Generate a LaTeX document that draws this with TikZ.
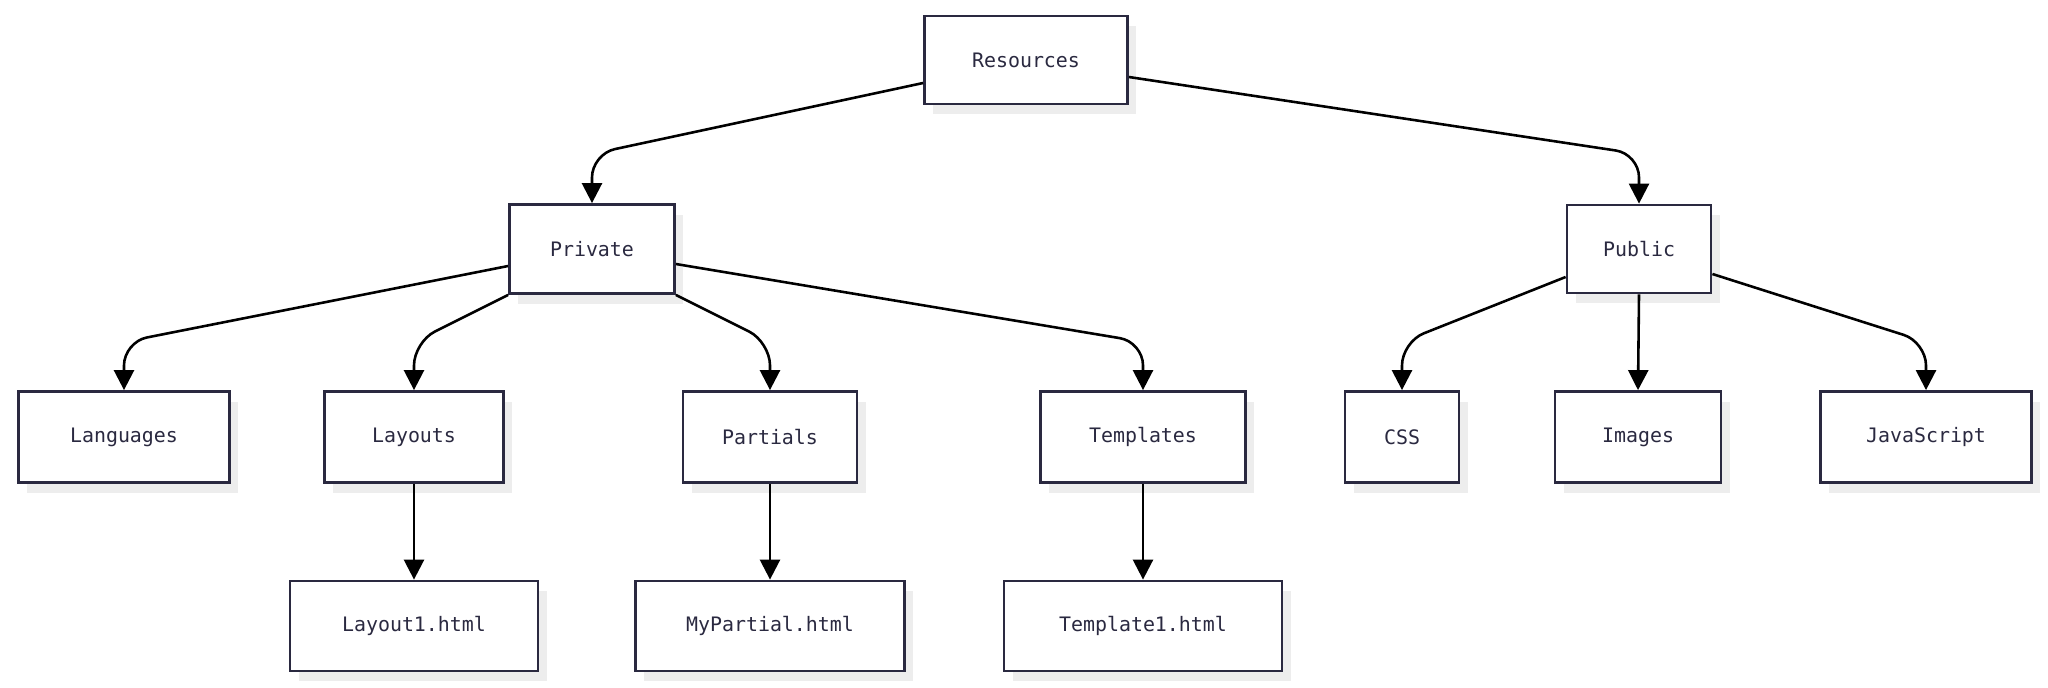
\documentclass[tikz,border=0pt]{standalone}
\usepackage{fontspec}
\setmonofont{DejaVu Sans Mono}
\usetikzlibrary{arrows.meta,calc}
\definecolor{ink}{HTML}{2A2940}
\definecolor{shad}{HTML}{EDEDED}
\tikzset{
  box/.style 2 args={draw=ink,line width=2.4pt,fill=white,text=ink,font=\ttfamily\fontsize{17}{20}\selectfont,
    minimum width=#1*0.3mm,minimum height=#2*0.3mm,inner sep=0pt,
    preaction={draw=none,fill=shad,transform canvas={shift={(2.6mm,-3mm)}}}},
  conn/.style={draw=black,line width=2.2pt,rounded corners=7mm,-{Triangle[length=6mm,width=6mm]}}
}
\begin{document}
\begin{tikzpicture}[x=0.3mm,y=-0.3mm]
\useasboundingbox (0,0) rectangle (2048,687);
\node[box={203}{88}] (res) at (1026,60) {Resources};
\node[box={165}{89}] (pri) at (592,249) {Private};
\node[box={144}{88}] (pub) at (1639,249) {Public};
\node[box={211}{91}] (lan) at (124,437) {Languages};
\node[box={179}{91}] (lay) at (414,437) {Layouts};
\node[box={174}{91}] (par) at (770,437) {Partials};
\node[box={205}{91}] (tem) at (1143,437) {Templates};
\node[box={114}{91}] (css) at (1402,437) {CSS};
\node[box={166}{91}] (img) at (1638,437) {Images};
\node[box={211}{91}] (js) at (1926,437) {JavaScript};
\node[box={248}{90}] (lay1) at (414,626) {Layout1.html};
\node[box={269}{90}] (myp) at (770,626) {MyPartial.html};
\node[box={278}{90}] (tem1) at (1143,626) {Template1.html};
\path[conn] ($(res.west)+(0,23)$) -- (592,154) -- (pri.north);
\path[conn] ($(res.east)+(0,17)$) -- (1639,154) -- (pub.north);
\path[conn] ($(pri.west)+(0,17)$) -- (124,342) -- (lan.north);
\path[conn] (pri.south west) -- (414,342) -- (lay.north);
\path[conn] (pri.south east) -- (770,342) -- (par.north);
\path[conn] ($(pri.east)+(0,15)$) -- (1143,342) -- (tem.north);
\path[conn] ($(pub.west)+(0,28)$) -- (1402,342) -- (css.north);
\path[conn] (pub.south) -- (img.north);
\path[conn] ($(pub.east)+(0,25)$) -- (1926,342) -- (js.north);
\path[conn] (lay.south) -- (lay1.north);
\path[conn] (par.south) -- (myp.north);
\path[conn] (tem.south) -- (tem1.north);
\end{tikzpicture}
\end{document}
